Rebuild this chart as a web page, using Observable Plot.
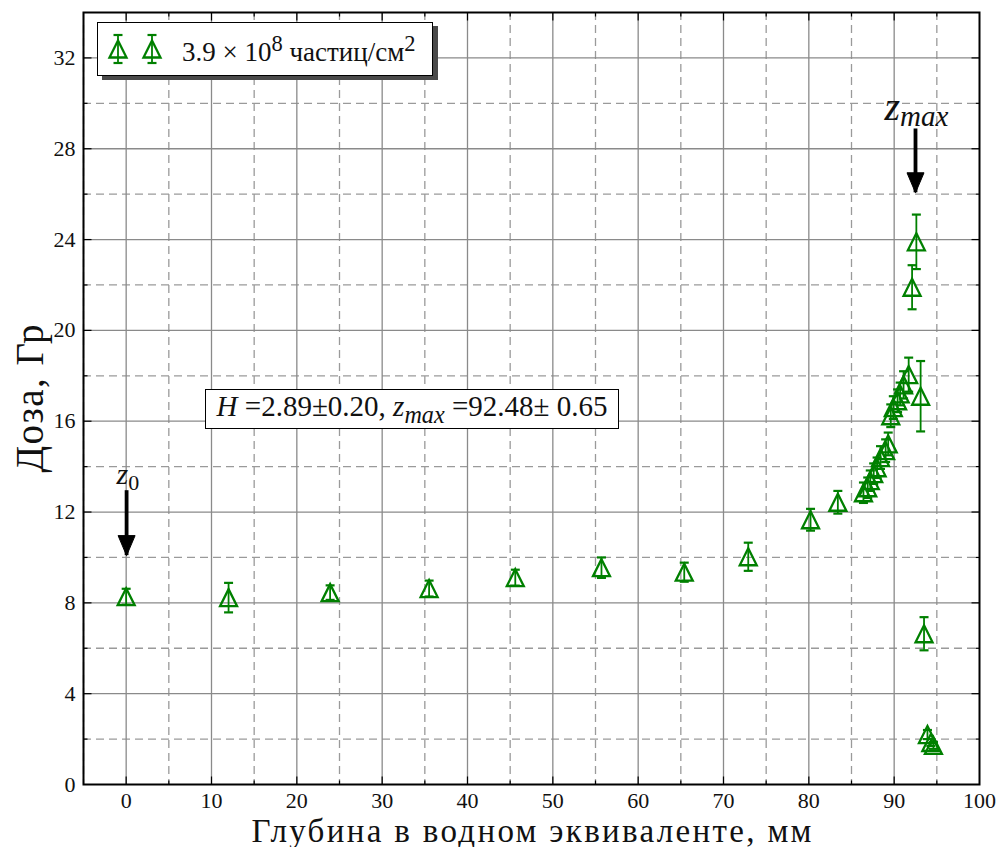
<!DOCTYPE html>
<html>
<head>
<meta charset="utf-8">
<script src="https://cdn.jsdelivr.net/npm/d3@7"></script>
<script src="https://cdn.jsdelivr.net/npm/@observablehq/plot@0.6"></script>
<style>
  html, body { margin: 0; padding: 0; background: white; }
  #wrap { position: relative; width: 1003px; height: 847px; font-family: 'Liberation Serif', 'DejaVu Serif', serif; }
  .box { position: absolute; background: white; border: 1.5px solid black; box-sizing: border-box; white-space: nowrap; color: #111; }
  #legend { box-shadow: 5px 4px 0 #4a4a4a; display: flex; align-items: center; }
  #note { display: flex; align-items: center; justify-content: center; }
  svg text { font-family: 'Liberation Serif', 'DejaVu Serif', serif; }
</style>
</head>
<body>
<div id="wrap"></div>
<script>
// ---- data ----
const depth = [0, 12, 23.9, 35.5, 45.6, 55.7, 65.4, 72.9, 80.2, 83.4,
  86.4, 86.9, 87.2, 87.6, 88.0, 88.4, 89.0, 89.3,
  89.6, 89.9, 90.4, 90.7, 91.1, 91.7,
  92.1, 92.6, 93.1, 93.5, 93.9, 94.3, 94.6];
const dose = [8.27, 8.23, 8.45, 8.63, 9.11, 9.55, 9.35, 10.03, 11.66, 12.43,
  12.85, 13.07, 13.38, 13.69, 13.95, 14.4, 14.7, 15.0,
  16.24, 16.6, 16.9, 17.2, 17.6, 18.05,
  21.9, 23.9, 17.1, 6.64, 2.2, 1.85, 1.72];
const doseErr = [0.35, 0.65, 0.32, 0.35, 0.35, 0.45, 0.42, 0.62, 0.48, 0.5,
  0.45, 0.45, 0.45, 0.45, 0.45, 0.5, 0.5, 0.5,
  0.5, 0.5, 0.5, 0.5, 0.6, 0.75,
  0.97, 1.2, 1.55, 0.73, 0.2, 0.15, 0.15];

const xMajor = [0, 10, 20, 30, 40, 50, 60, 70, 80, 90];
const xMinor = [-5, 5, 15, 25, 35, 45, 55, 65, 75, 85, 95];
const xTickLabels = [0, 10, 20, 30, 40, 50, 60, 70, 80, 90, 100];
const yMajor = [4, 8, 12, 16, 20, 24, 28, 32];
const yMinor = [2, 6, 10, 14, 18, 22, 26, 30];
const yTickLabels = [0, 4, 8, 12, 16, 20, 24, 28, 32];

const arrowX = [0.05, 92.5];
const arrowTop = [12.94, 28.87];
const arrowTip = [10.08, 26.06];
const arrowLabelMain = ["z", "z"];
const arrowLabelSub = ["0", "max"];
const arrowLabelY = [13.25, 29.27];
const arrowLabelX = [0.2, 92.6];

const xLabel = "Глубина в водном эквиваленте, мм";
const yLabel = "Доза, Гр";
const legendLabel = "3.9 × 10<sup>8</sup> частиц/см<sup>2</sup>";
const noteHTML = "<i>H</i>&nbsp;=2.89±0.20, <i>z<sub>max</sub></i>&nbsp;=92.48± 0.65";

// ---- table ----
const points = depth.map((d, i) => ({x: d, y: dose[i], lo: dose[i] - doseErr[i], hi: dose[i] + doseErr[i]}));
const arrows = arrowX.map((x, i) => ({x, top: arrowTop[i], tip: arrowTip[i], main: arrowLabelMain[i], sub: arrowLabelSub[i], ly: arrowLabelY[i], lx: arrowLabelX[i]}));

const green = "#008000";
const FONT = "'Liberation Serif', 'DejaVu Serif', serif";
const rad = s => Math.sqrt(s / Math.PI);
const triUp = {draw(c, s) { const r = rad(s); c.moveTo(0, -r); c.lineTo(r, r); c.lineTo(-r, r); c.closePath(); }};
const capSym = {draw(c, s) { const r = rad(s); c.moveTo(-r, 0); c.lineTo(r, 0); }};
const headSym = {draw(c, s) { const r = rad(s); c.moveTo(0, 0); c.lineTo(-0.85 * r, -2 * r); c.lineTo(0.85 * r, -2 * r); c.closePath(); }};
const tUp = {draw(c, s) { const r = rad(s); c.moveTo(0, 0); c.lineTo(0, -r); }};
const tDown = {draw(c, s) { const r = rad(s); c.moveTo(0, 0); c.lineTo(0, r); }};
const tRight = {draw(c, s) { const r = rad(s); c.moveTo(0, 0); c.lineTo(r, 0); }};
const tLeft = {draw(c, s) { const r = rad(s); c.moveTo(0, 0); c.lineTo(-r, 0); }};

const tickMarks = [];
[[xMajor, 8], [xMinor.slice(1), 4]].forEach(([arr, len]) => {
  tickMarks.push(Plot.dot(arr, {x: d => d, y: () => 0, symbol: tUp, r: len, stroke: "black", strokeWidth: 1.2}));
  tickMarks.push(Plot.dot(arr, {x: d => d, y: () => 34, symbol: tDown, r: len, stroke: "black", strokeWidth: 1.2}));
});
[[yMajor, 8], [yMinor, 4]].forEach(([arr, len]) => {
  tickMarks.push(Plot.dot(arr, {y: d => d, x: () => -5, symbol: tRight, r: len, stroke: "black", strokeWidth: 1.2}));
  tickMarks.push(Plot.dot(arr, {y: d => d, x: () => 100, symbol: tLeft, r: len, stroke: "black", strokeWidth: 1.2}));
});

const plot = Plot.plot({
  width: 1003, height: 847,
  marginLeft: 83, marginRight: 24, marginTop: 12, marginBottom: 63,
  x: {domain: [-5, 100]},
  y: {domain: [0, 34]},
  style: {fontFamily: FONT, background: "white", color: "#111"},
  marks: [
    Plot.ruleX(xMinor, {stroke: "#9a9a9a", strokeWidth: 1.3, strokeDasharray: "8,5"}),
    Plot.ruleY(yMinor, {stroke: "#9a9a9a", strokeWidth: 1.3, strokeDasharray: "8,5"}),
    Plot.ruleX(xMajor, {stroke: "#8a8a8a", strokeWidth: 1.3}),
    Plot.ruleY(yMajor, {stroke: "#8a8a8a", strokeWidth: 1.3}),
    Plot.axisX(xTickLabels, {tickSize: 0, tickPadding: 8, fontSize: 22, label: null}),
    Plot.axisY(yTickLabels, {tickSize: 0, tickPadding: 8, fontSize: 22, label: null}),
    ...tickMarks,
    Plot.ruleX(points, {x: "x", y1: "lo", y2: "hi", stroke: green, strokeWidth: 1.8}),
    Plot.dot(points, {x: "x", y: "lo", symbol: capSym, r: 4.5, stroke: green, strokeWidth: 2.2}),
    Plot.dot(points, {x: "x", y: "hi", symbol: capSym, r: 4.5, stroke: green, strokeWidth: 2.2}),
    Plot.dot(points, {x: "x", y: "y", symbol: triUp, r: 8.5, stroke: green, fill: "none", strokeWidth: 2.3}),
    Plot.ruleX(arrows, {x: "x", y1: "top", y2: "tip", stroke: "black", strokeWidth: 3.8}),
    Plot.dot(arrows, {x: "x", y: "tip", symbol: headSym, r: 10, fill: "black", stroke: "black", strokeWidth: 1}),
    Plot.text(arrows, {x: "lx", y: "ly", text: d => d.main + "|" + d.sub, lineAnchor: "bottom", textAnchor: "middle", className: "zlabel", fill: "#111"}),
    Plot.frame({stroke: "black", strokeWidth: 2}),
    Plot.text([xLabel], {text: d => d, frameAnchor: "bottom", textAnchor: "middle", dy: 57, lineAnchor: "bottom", fontSize: 33, fill: "#111", className: "xlab"}),
    Plot.text([yLabel], {text: d => d, frameAnchor: "left", textAnchor: "middle", dx: -53, rotate: -90, lineAnchor: "middle", fontSize: 39, fill: "#111", className: "ylab"})
  ]
});

// subscripts in arrow labels
d3.select(plot).selectAll("g.zlabel text").each(function() {
  const t = d3.select(this);
  const [main, sub] = t.text().split("|");
  const big = sub === "0" ? 30 : 40;
  const small = sub === "0" ? 22 : 29;
  t.text(null);
  t.append("tspan").attr("font-style", "italic").attr("font-size", big).text(main);
  t.append("tspan").attr("font-style", sub === "0" ? "normal" : "italic").attr("font-size", small).attr("dy", 6).text(sub);
});
// stretch axis titles toward the reference extent
d3.select(plot).selectAll("g.xlab text").attr("textLength", 560).attr("lengthAdjust", "spacing");
d3.select(plot).selectAll("g.ylab text").attr("textLength", 148).attr("lengthAdjust", "spacing");

const wrap = document.getElementById("wrap");
wrap.appendChild(plot);

// legend (inside the plot area, top-left)
const legend = document.createElement("div");
legend.className = "box";
legend.id = "legend";
legend.style.left = "97px";
legend.style.top = "22px";
legend.style.width = "336px";
legend.style.height = "54px";
const ms = (cx) => `<line x1="${cx}" x2="${cx}" y1="12" y2="40" stroke="${green}" stroke-width="1.8"/>
  <line x1="${cx-4.5}" x2="${cx+4.5}" y1="12" y2="12" stroke="${green}" stroke-width="2.2"/>
  <line x1="${cx-4.5}" x2="${cx+4.5}" y1="40" y2="40" stroke="${green}" stroke-width="2.2"/>
  <path d="M${cx},${26-8.5}L${cx+8.5},${26+8.5}L${cx-8.5},${26+8.5}Z" fill="none" stroke="${green}" stroke-width="2.3"/>`;
legend.innerHTML = `<svg width="84" height="52" style="flex:none">${ms(20)}${ms(54)}</svg><span style="font-size:27px">${legendLabel}</span>`;
wrap.appendChild(legend);

// fit annotation box
const note = document.createElement("div");
note.className = "box";
note.id = "note";
note.style.left = "205px";
note.style.top = "389px";
note.style.width = "414px";
note.style.height = "40px";
note.innerHTML = `<span style="font-size:29px">${noteHTML}</span>`;
wrap.appendChild(note);
</script>
</body>
</html>
